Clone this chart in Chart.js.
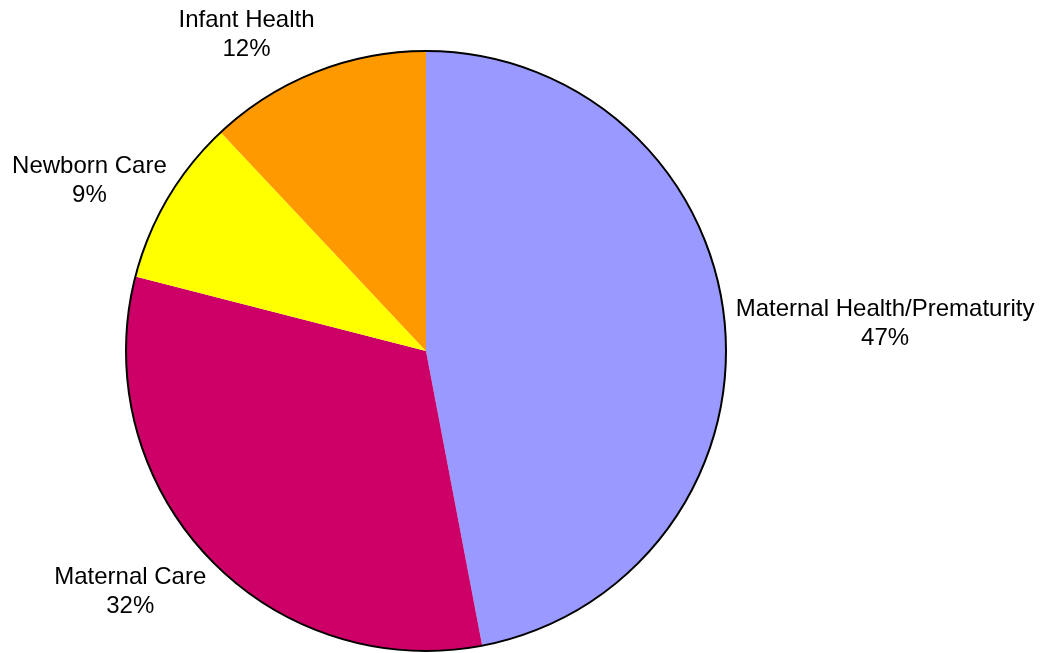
<!DOCTYPE html>
<html>
<head>
<meta charset="utf-8">
<script src="https://cdn.jsdelivr.net/npm/chart.js@4/dist/chart.umd.min.js"></script>
<style>
  html, body { margin: 0; padding: 0; background: #fff; }
  #wrap { width: 1053px; height: 653px; }
</style>
</head>
<body>
<div id="wrap"><canvas id="myChart" width="1053" height="653"></canvas></div>
<script>
// Chart data
const categories = ["Maternal Health/Prematurity", "Maternal Care", "Newborn Care", "Infant Health"];
const shares = [47, 32, 9, 12];
const sliceColors = ["#9999FF", "#CC0066", "#FFFF00", "#FF9900"];

// Draws the outer black rim and the two-line labels outside each slice
const pieLabels = {
    id: "pieLabels",
    afterDatasetsDraw(chart) {
        const ctx = chart.ctx;
        const arcs = chart.getDatasetMeta(0).data;
        const total = shares.reduce((a, b) => a + b, 0);
        if (!arcs.length) return;

        // outer rim only, no lines between slices
        const first = arcs[0];
        ctx.save();
        ctx.beginPath();
        ctx.arc(first.x, first.y, first.outerRadius, 0, Math.PI * 2);
        ctx.lineWidth = 2;
        ctx.strokeStyle = "#000";
        ctx.stroke();

        ctx.font = "24px 'Liberation Sans', Arial, sans-serif";
        ctx.fillStyle = "#000";
        ctx.textAlign = "center";
        ctx.textBaseline = "middle";
        const lineH = 29;

        arcs.forEach((arc, i) => {
            const mid = (arc.startAngle + arc.endAngle) / 2;
            const cos = Math.cos(mid), sin = Math.sin(mid);
            const ex = arc.x + cos * arc.outerRadius;
            const ey = arc.y + sin * arc.outerRadius;
            const lines = [categories[i], Math.round(shares[i] / total * 100) + "%"];
            const w = Math.max(...lines.map(t => ctx.measureText(t).width));
            const h = lines.length * lineH;
            // small nudge right/down to sit like the original labels
            const cx = ex + Math.sign(cos) * (w / 2 + 6) + 5;
            const cy = ey + sin * (h / 2 + 16) + 5;
            lines.forEach((t, k) => {
                ctx.fillText(t, cx, cy - h / 2 + lineH * (k + 0.5));
            });
        });
        ctx.restore();
    }
};

const ctx = document.getElementById("myChart").getContext("2d");
new Chart(ctx, {
    type: "pie",
    data: {
        labels: categories,
        datasets: [{
            data: shares,
            backgroundColor: sliceColors,
            borderWidth: 0
        }]
    },
    options: {
        responsive: false,
        animation: false,
        layout: {
            padding: { left: 126, right: 327, top: 51, bottom: 2 }
        },
        plugins: {
            legend: { display: false },
            tooltip: { enabled: false }
        }
    },
    plugins: [pieLabels]
});
</script>
</body>
</html>
